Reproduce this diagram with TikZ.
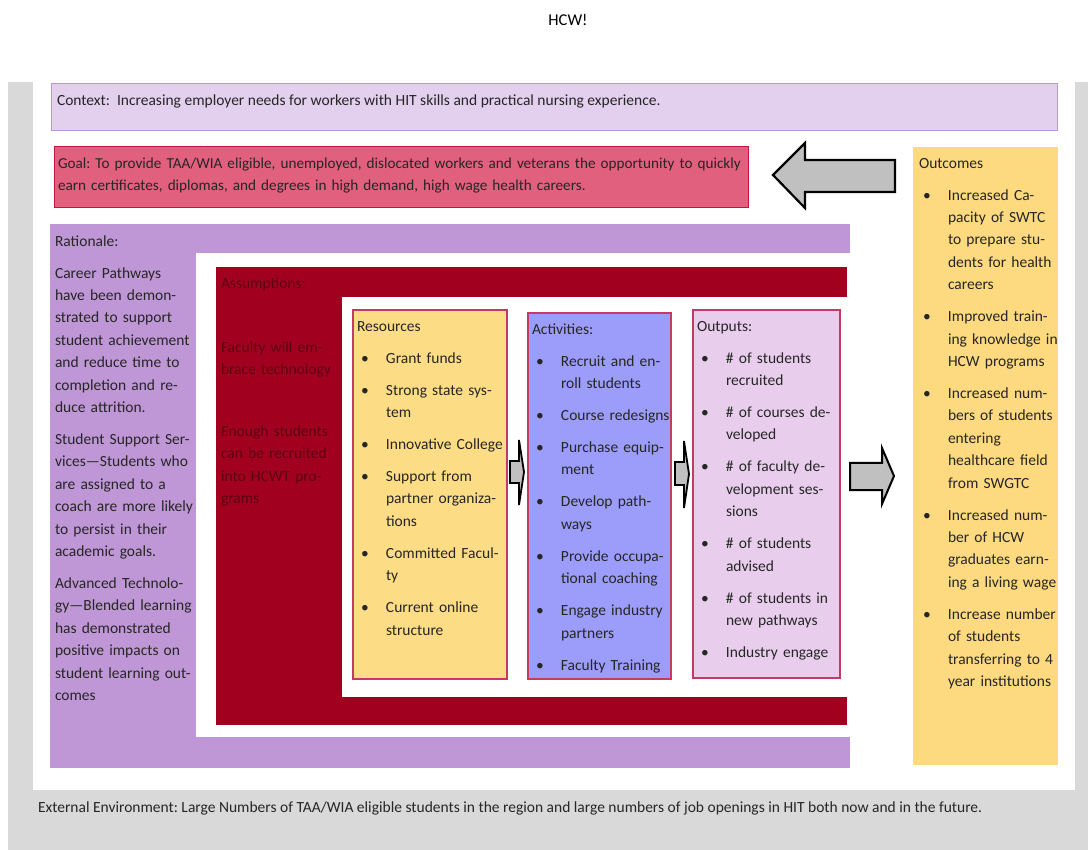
\documentclass[tikz,border=0pt]{standalone}
\usepackage{fontspec}
\setmainfont{Carlito}
\usepackage{xcolor}
\usetikzlibrary{positioning}

\definecolor{pagegray}{HTML}{D9D9D9}
\definecolor{ctxfill}{HTML}{E3CFEE}
\definecolor{ctxline}{HTML}{B597DA}
\definecolor{goalfill}{HTML}{E0607E}
\definecolor{goalline}{HTML}{C0183C}
\definecolor{outyellow}{HTML}{FDDA80}
\definecolor{ratpurple}{HTML}{BF97D6}
\definecolor{assumred}{HTML}{A1001F}
\definecolor{assumtext}{HTML}{5E0010}
\definecolor{resfill}{HTML}{FDDC86}
\definecolor{actfill}{HTML}{9C9CFA}
\definecolor{outpfill}{HTML}{E8CEEC}
\definecolor{boxline}{HTML}{C43A62}
\definecolor{txt}{HTML}{262626}
\definecolor{arrowgray}{HTML}{C0C0C0}

\newcommand{\hcwfont}{\fontsize{15.5}{22.4}\selectfont\frenchspacing}
\newlength{\hcwpre}\setlength{\hcwpre}{4pt}
\newlength{\hcwind}\setlength{\hcwind}{29pt}
\newcommand{\hcwitem}[1]{\par\hangindent=\hcwind\hangafter=1\noindent\hbox to\hcwind{\hskip\hcwpre\textbullet\hfil}#1\par}

\begin{document}
\begin{tikzpicture}[x=1pt, y=-1pt,
    every node/.style={inner sep=0pt, outer sep=0pt},
    panel/.style 2 args={anchor=north west, minimum width=#1, minimum height=#2},
    words/.style={anchor=north west, font=\hcwfont, text=txt, yshift=-2.5pt,
        execute at begin node={\setlength{\parskip}{9.6pt}\strut}},
    list/.style={words, text width=#1},
    blockarrow/.style={fill=arrowgray, draw=black, line width=#1, line join=miter}
]
\useasboundingbox (0,0) rectangle (1088,850);

\node[panel={1080}{768}, fill=pagegray] (page) at (8,82) {};
\node[panel={1042}{708}, fill=white] (sheet) at (33,82) {};
\node[font=\fontsize{16.5}{18}\selectfont, text=black] (title) at (568,20) {HCW!};

\node[panel={1006}{47}, fill=ctxfill, draw=ctxline, line width=1pt] (context) at (51,84) {};
\node[panel={694}{61}, fill=goalfill, draw=goalline, line width=1pt] (goal) at (54,147) {};
\node[panel={145}{618}, fill=outyellow] (outcomes) at (913,147) {};
\node[panel={800}{544}, fill=ratpurple] (rationale) at (50,224) {};
\node[panel={700}{484}, fill=white] (ratinner) at (196,253) {};
\node[panel={631}{458}, fill=assumred] (assumptions) at (216,267) {};
\node[panel={560}{400}, fill=white] (assuminner) at (342,297) {};
\node[panel={154}{369}, fill=resfill, draw=boxline, line width=1.5pt] (resources) at (353,310) {};
\node[panel={143}{366}, fill=actfill, draw=boxline, line width=1.5pt] (activities) at (528,313) {};
\node[panel={147}{368}, fill=outpfill, draw=boxline, line width=1.5pt] (outputs) at (693,310) {};

\draw[blockarrow=2.2pt] (773,175) -- (805,143) -- (805,160) -- (895,160) -- (895,192) -- (805,192) -- (805,208) -- cycle;
\draw[blockarrow=2pt] (850,463) -- (882,463) -- (882,448) -- (894,476) -- (882,504) -- (882,490) -- (850,490) -- cycle;
\draw[blockarrow=1.8pt] (510,461) -- (519,461) -- (519,440) -- (524,472) -- (519,505) -- (519,483) -- (510,483) -- cycle;
\draw[blockarrow=1.8pt] (675,462) -- (684,462) -- (684,441) -- (689,474) -- (684,508) -- (684,485) -- (675,485) -- cycle;

\node[words] (ctxtext) at (57,87) {Context:\ \ Increasing employer needs for workers with HIT skills and practical nursing experience.};
\node[list=700pt, font=\fontsize{15.2}{22.4}\selectfont\frenchspacing] (goaltext) at (58,150) {Goal: To provide TAA/WIA eligible, unemployed, dislocated workers and veterans the opportunity to quickly\newline earn certificates, diplomas, and degrees in high demand, high wage health careers.};
\node[words] (exttext) at (38,794) {External Environment: Large Numbers of TAA/WIA eligible students in the region and large numbers of job openings in HIT both now and in the future.};

\node[list=150pt] (rattext) at (55,228) {Rationale:\par
    Career Pathways\newline have been demon-\newline strated to support\newline student achievement\newline and reduce time to\newline completion and re-\newline duce attrition.\par
    Student Support Ser-\newline vices---Students who\newline are assigned to a\newline coach are more likely\newline to persist in their\newline academic goals.\par
    Advanced Technolo-\newline gy---Blended learning\newline has demonstrated\newline positive impacts on\newline student learning out-\newline comes};

\node[list=130pt, text=assumtext] (assumtext) at (221,270) {Assumptions:\par\vskip 32pt
    Faculty will em-\newline brace technology\par\vskip 30pt
    Enough students\newline can be recruited\newline into HCWT pro-\newline grams};

\node[list=150pt] (restext) at (357,313) {Resources
    \hcwitem{Grant funds}
    \hcwitem{Strong state sys-\newline tem}
    \hcwitem{Innovative College}
    \hcwitem{Support from\newline partner organiza-\newline tions}
    \hcwitem{Committed Facul-\newline ty}
    \hcwitem{Current online\newline structure}};

\node[list=150pt] (acttext) at (532,316) {Activities:
    \hcwitem{Recruit and en-\newline roll students}
    \hcwitem{Course redesigns}
    \hcwitem{Purchase equip-\newline ment}
    \hcwitem{Develop path-\newline ways}
    \hcwitem{Provide occupa-\newline tional coaching}
    \hcwitem{Engage industry\newline partners}
    \hcwitem{Faculty Training}};

\node[list=150pt] (outptext) at (697,313) {Outputs:
    \hcwitem{\# of students\newline recruited}
    \hcwitem{\# of courses de-\newline veloped}
    \hcwitem{\# of faculty de-\newline velopment ses-\newline sions}
    \hcwitem{\# of students\newline advised}
    \hcwitem{\# of students in\newline new pathways}
    \hcwitem{Industry engage}};

\node[list=150pt] (outctext) at (919,150) {Outcomes
    \hcwitem{Increased Ca-\newline pacity of SWTC\newline to prepare stu-\newline dents for health\newline careers}
    \hcwitem{Improved train-\newline ing knowledge in\newline HCW programs}
    \hcwitem{Increased num-\newline bers of students\newline entering\newline healthcare field\newline from SWGTC}
    \hcwitem{Increased num-\newline ber of HCW\newline graduates earn-\newline ing a living wage}
    \hcwitem{Increase number\newline of students\newline transferring to 4\newline year institutions}};
\end{tikzpicture}
\end{document}
